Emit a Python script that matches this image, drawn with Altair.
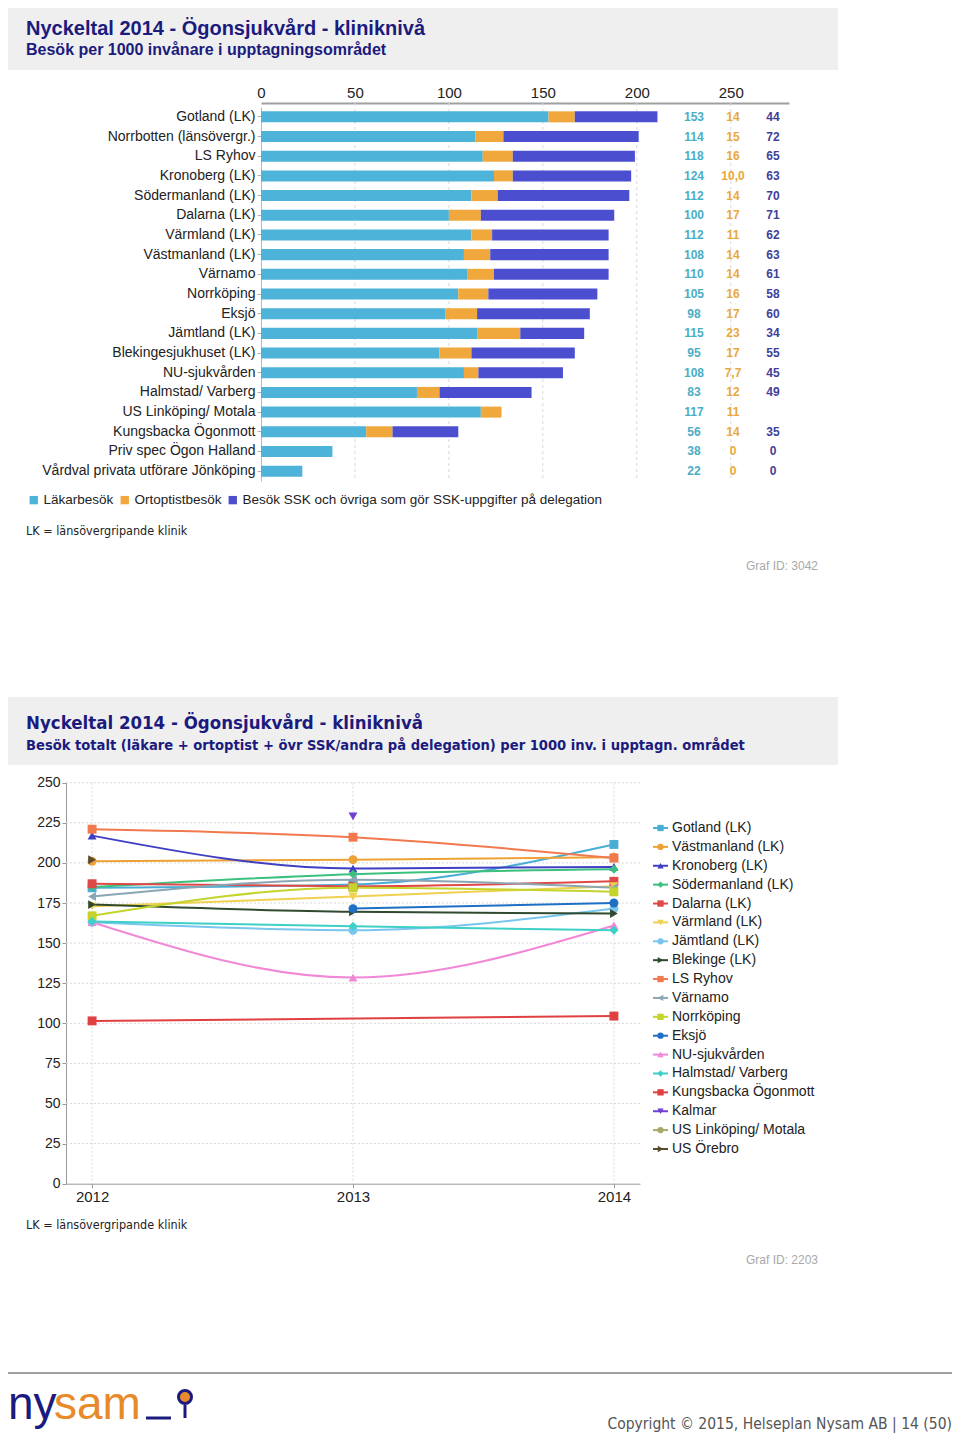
import altair as alt
import pandas as pd

# ---------------- Bar chart data (2014) ----------------
clinics = [
    "Gotland (LK)", "Norrbotten (länsövergr.)", "LS Ryhov", "Kronoberg (LK)",
    "Södermanland (LK)", "Dalarna (LK)", "Värmland (LK)", "Västmanland (LK)",
    "Värnamo", "Norrköping", "Eksjö", "Jämtland (LK)", "Blekingesjukhuset (LK)",
    "NU-sjukvården", "Halmstad/ Varberg", "US Linköping/ Motala",
    "Kungsbacka Ögonmott", "Priv spec Ögon Halland",
    "Vårdval privata utförare Jönköping",
]
lakare = [153, 114, 118, 124, 112, 100, 112, 108, 110, 105, 98, 115, 95, 108, 83, 117, 56, 38, 22]
ortoptist = [14, 15, 16, 10.0, 14, 17, 11, 14, 14, 16, 17, 23, 17, 7.7, 12, 11, 14, 0, 0]
ssk = [44, 72, 65, 63, 70, 71, 62, 63, 61, 58, 60, 34, 55, 45, 49, None, 35, 0, 0]

bar_categories = ["Läkarbesök", "Ortoptistbesök",
                  "Besök SSK och övriga som gör SSK-uppgifter på delegation"]
bar_colors = ["#4eb3d8", "#f0a83c", "#4b4fcf"]
bar_text_colors = ["#4aaec6", "#e8a83a", "#3f3f9a"]
bar_x_ticks = [0, 50, 100, 150, 200, 250]
bar_grid_ticks = [50, 100, 150, 200, 250]

# ---------------- Line chart data ----------------
years = [2012, 2013, 2014]
series = [
    "Gotland (LK)", "Västmanland (LK)", "Kronoberg (LK)", "Södermanland (LK)",
    "Dalarna (LK)", "Värmland (LK)", "Jämtland (LK)", "Blekinge (LK)", "LS Ryhov",
    "Värnamo", "Norrköping", "Eksjö", "NU-sjukvården", "Halmstad/ Varberg",
    "Kungsbacka Ögonmott", "Kalmar", "US Linköping/ Motala", "US Örebro",
]
gotland = [184.5, 186.5, 211.5]
vastmanland = [201, 202, 203.5]
kronoberg = [217, 196.5, 197.5]
sodermanland = [185, 193, 196]
dalarna = [187, 185.5, 188.5]
varmland = [173, 179, 185.5]
jamtland = [163, 158, 171.5]
blekinge = [174, 169.5, 168.5]
ls_ryhov = [221, 216, 203]
varnamo = [179, 189.5, 184.5]
norrkoping = [167, 184.5, 182]
eksjo = [None, 171.5, 175]
nu_sjukvarden = [163, 128.5, 161]
halmstad = [163.5, 160.5, 158]
kungsbacka = [101.5, None, 104.5]
kalmar = [None, 229, None]
us_linkoping = [None, None, None]
us_orebro = [202, None, None]
series_values = [gotland, vastmanland, kronoberg, sodermanland, dalarna, varmland,
                 jamtland, blekinge, ls_ryhov, varnamo, norrkoping, eksjo,
                 nu_sjukvarden, halmstad, kungsbacka, kalmar, us_linkoping, us_orebro]
series_colors = [
    "#4aaed4", "#eea235", "#3f3fc4", "#3cc07e", "#e04848", "#f0d050",
    "#78c6ee", "#2f4a2f", "#f2784e", "#8aa6b4", "#c4d42c", "#1f70c4",
    "#f088d6", "#3ed0c6", "#e04040", "#6f3fd6", "#a8a86a", "#5a4a2e",
]
series_shapes = [
    "square", "circle", "triangle-up", "diamond", "square", "triangle-down",
    "circle", "triangle-right", "square", "triangle-left", "square", "circle",
    "triangle-up", "diamond", "square", "triangle-down", "circle", "triangle-right",
]
line_y_ticks = [0, 25, 50, 75, 100, 125, 150, 175, 200, 225, 250]
line_grid_ticks = [25, 50, 75, 100, 125, 150, 175, 200, 225, 250]

# ---------------- Tables ----------------
def sv(v):
    return "" if v is None else str(v).replace(".", ",")

bar_rows = []
for i, c in enumerate(clinics):
    for k, (cat, vals) in enumerate(zip(bar_categories, [lakare, ortoptist, ssk])):
        v = vals[i]
        bar_rows.append({"clinic": c, "cat": cat, "ord": k, "value": 0 if v is None else v})
bar_df = pd.DataFrame(bar_rows)
table_df = pd.DataFrame({
    "clinic": clinics,
    "lak": [sv(v) for v in lakare],
    "ort": [sv(v) for v in ortoptist],
    "ssk": [sv(v) for v in ssk],
})

line_rows = []
for name, vals in zip(series, series_values):
    for yr, v in zip(years, vals):
        if v is not None:
            line_rows.append({"serie": name, "year": yr, "v": v})
line_df = pd.DataFrame(line_rows)

W, H = 944, 1426
NAVY = "#1b1b7e"
FONT = "Liberation Sans"
NARROW = "Liberation Sans Narrow, DejaVu Sans Condensed, Liberation Sans"
one = pd.DataFrame({"a": [0]})

# ---------------- Bar section ----------------
bx = alt.Scale(domain=[0, 281], range=[253, 781], nice=False, zero=False)
by = alt.Scale(domain=clinics, range=[99, 473], paddingInner=0.44, paddingOuter=0.22)
bx_axis = alt.Axis(orient="top", offset=-95, values=bar_x_ticks, grid=False, ticks=False,
                   domainColor="#a0a0a0", domainWidth=2, labelFontSize=15, labelColor="#222",
                   labelPadding=3, title=None, labelFlush=False)
by_axis = alt.Axis(orient="left", offset=-253, title=None, labelFontSize=14, labelColor="#222",
                   domainColor="#b8b8b8", tickColor="#b0b0b0", tickSize=4, labelPadding=2,
                   labelLimit=400, grid=False)

bar_grid = alt.Chart(pd.DataFrame({"t": bar_grid_ticks})).mark_rule(
    color="#d8d8d8", strokeDash=[3, 3], strokeWidth=1
).encode(x=alt.X("t:Q", scale=bx, axis=bx_axis), y=alt.value(95), y2=alt.value(473))

bars = alt.Chart(bar_df).mark_bar().encode(
    x=alt.X("value:Q", stack="zero", scale=bx, axis=bx_axis),
    y=alt.Y("clinic:N", scale=by, axis=by_axis, sort=clinics),
    color=alt.Color("cat:N", scale=alt.Scale(domain=bar_categories, range=bar_colors),
                    legend=alt.Legend(orient="none", legendX=19, legendY=485,
                                      direction="horizontal", title=None,
                                      symbolType="square", symbolSize=70,
                                      symbolStrokeWidth=0, labelFontSize=13.5,
                                      labelColor="#222", columnPadding=4,
                                      labelOffset=3, padding=0, labelLimit=600)),
    order=alt.Order("ord:Q", sort="ascending"),
)

def col_text(field, xpos, color):
    return alt.Chart(table_df).mark_text(fontSize=12, color=color, align="center",
                                         fontWeight="bold").encode(
        y=alt.Y("clinic:N", scale=by, axis=by_axis, sort=clinics),
        x=alt.value(xpos),
        text=alt.Text(f"{field}:N"),
    )

bar_section = alt.layer(
    bar_grid, bars,
    col_text("lak", 686, bar_text_colors[0]),
    col_text("ort", 725, bar_text_colors[1]),
    col_text("ssk", 765, bar_text_colors[2]),
)

# ---------------- Line section ----------------
lx = alt.Scale(domain=[2011.9, 2014.1], range=[58, 632], nice=False, zero=False)
ly = alt.Scale(domain=[0, 250], range=[1175.7, 774.7], nice=False, zero=True)
lx_axis = alt.Axis(orient="bottom", offset=-(H - 1175.7), values=years, format="d", grid=False,
                   domainColor="#999", tickColor="#999", tickSize=4, labelFontSize=15,
                   labelColor="#222", labelPadding=2, title=None, labelFlush=False)
ly_axis = alt.Axis(orient="left", offset=-58, values=line_y_ticks, grid=False, domainColor="#999",
                   tickColor="#999", tickSize=4, labelFontSize=14, labelColor="#222",
                   labelPadding=2, title=None)
color_scale = alt.Scale(domain=series, range=series_colors)
shape_scale = alt.Scale(domain=series, range=series_shapes)

hgrid = alt.Chart(pd.DataFrame({"t": line_grid_ticks})).mark_rule(
    color="#d8d8d8", strokeDash=[2, 2], strokeWidth=1
).encode(y=alt.Y("t:Q", scale=ly, axis=ly_axis), x=alt.value(58), x2=alt.value(632))
vgrid = alt.Chart(pd.DataFrame({"t": years})).mark_rule(
    color="#d8d8d8", strokeDash=[2, 2], strokeWidth=1
).encode(x=alt.X("t:Q", scale=lx, axis=lx_axis), y=alt.value(774.7), y2=alt.value(1175.7))

lines = alt.Chart(line_df).mark_line(interpolate="monotone", strokeWidth=2).encode(
    x=alt.X("year:Q", scale=lx, axis=lx_axis),
    y=alt.Y("v:Q", scale=ly, axis=ly_axis),
    color=alt.Color("serie:N", scale=color_scale, legend=None),
    detail="serie:N",
)
points = alt.Chart(line_df).mark_point(filled=True, size=80, opacity=1).encode(
    x=alt.X("year:Q", scale=lx, axis=lx_axis),
    y=alt.Y("v:Q", scale=ly, axis=ly_axis),
    color=alt.Color("serie:N", scale=color_scale, legend=None),
    shape=alt.Shape("serie:N", scale=shape_scale, legend=None),
)
line_section = alt.layer(hgrid, vgrid, lines, points)

# ---------------- Line legend ----------------
leg_y = alt.Scale(type="point", domain=series, range=[820, 1141], padding=0)
leg_df = pd.DataFrame({"serie": series})
leg_rule = alt.Chart(leg_df).mark_rule(strokeWidth=2).encode(
    y=alt.Y("serie:N", scale=leg_y, axis=None),
    x=alt.value(645), x2=alt.value(660),
    color=alt.Color("serie:N", scale=color_scale, legend=None),
)
leg_pt = alt.Chart(leg_df).mark_point(filled=True, size=40, opacity=1).encode(
    y=alt.Y("serie:N", scale=leg_y, axis=None),
    x=alt.value(652.5),
    color=alt.Color("serie:N", scale=color_scale, legend=None),
    shape=alt.Shape("serie:N", scale=shape_scale, legend=None),
)
leg_txt = alt.Chart(leg_df).mark_text(align="left", fontSize=14, color="#222").encode(
    y=alt.Y("serie:N", scale=leg_y, axis=None),
    x=alt.value(664),
    text="serie:N",
)
legend_section = alt.layer(leg_rule, leg_pt, leg_txt)

# ---------------- Decorations / text ----------------
def box(y0, y1):
    return alt.Chart(one).mark_rect(color="#efefef").encode(
        x=alt.value(-2), x2=alt.value(830), y=alt.value(y0), y2=alt.value(y1))

def txt(s, x, y, size, color="#222", weight="normal", align="left", font=FONT):
    return alt.Chart(one).mark_text(text=s, fontSize=size, color=color, fontWeight=weight,
                                    align=align, baseline="alphabetic", font=font).encode(
        x=alt.value(x), y=alt.value(y))

decor = [
    box(0, 62),
    txt("Nyckeltal 2014 - Ögonsjukvård - kliniknivå", 18, 27, 20, NAVY, "bold"),
    txt("Besök per 1000 invånare i upptagningsområdet", 18, 47, 16, NAVY, "bold"),
    txt("LK = länsövergripande klinik", 18, 527, 12.5, "#222", font=NARROW),
    txt("Graf ID: 3042", 810, 562, 12, "#a8a8a8", align="right"),
    box(689, 757),
    txt("Nyckeltal 2014 - Ögonsjukvård - kliniknivå", 18, 721, 18.5, NAVY, "bold", font=NARROW),
    txt("Besök totalt (läkare + ortoptist + övr SSK/andra på delegation) per 1000 inv. i upptagn. området",
        18, 742, 14.6, NAVY, "bold", font=NARROW),
    txt("LK = länsövergripande klinik", 18, 1221, 12.5, "#222", font=NARROW),
    txt("Graf ID: 2203", 810, 1256, 12, "#a8a8a8", align="right"),
    alt.Chart(one).mark_rule(color="#a0a0a0", strokeWidth=2).encode(
        x=alt.value(-2), x2=alt.value(944), y=alt.value(1365)),
    txt("ny", 0, 1411, 46, "#1b1b7e", font="Liberation Sans"),
    txt("sam", 46, 1411, 46, "#e8892a", font="Liberation Sans"),
    alt.Chart(one).mark_rule(color="#1b1b7e", strokeWidth=3).encode(
        x=alt.value(138), x2=alt.value(163), y=alt.value(1410)),
    alt.Chart(one).mark_point(shape="circle", filled=True, size=170, color="#e8892a",
                              stroke="#1b1b7e", strokeWidth=3, opacity=1).encode(
        x=alt.value(177), y=alt.value(1389)),
    alt.Chart(one).mark_rule(color="#1b1b7e", strokeWidth=3).encode(
        x=alt.value(177), y=alt.value(1397), y2=alt.value(1410)),
    txt("Copyright © 2015, Helseplan Nysam AB  |  14 (50)", 944, 1421, 15.5, "#555",
        align="right", font=NARROW),
]

chart = alt.layer(
    *decor[:5], bar_section, *decor[5:10], line_section, legend_section, *decor[10:]
).resolve_scale(
    x="independent", y="independent", color="independent", shape="independent"
).properties(
    width=W, height=H, padding=0, autosize="none"
).configure(font=FONT).configure_view(stroke=None)

chart.save("out.html", embed_options={"renderer": "svg", "actions": False})
